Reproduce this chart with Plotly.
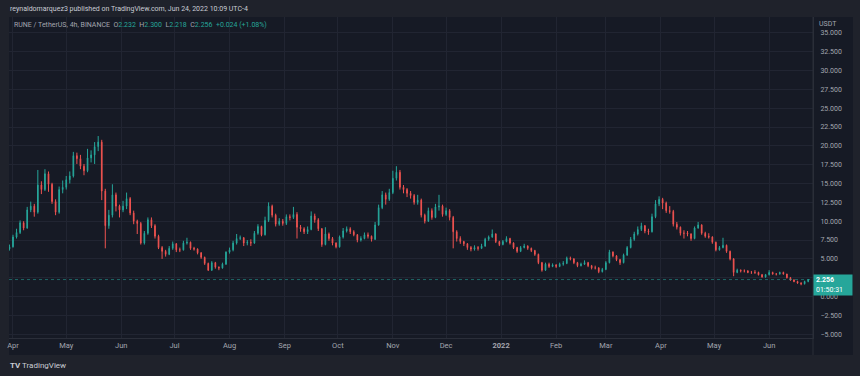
import pandas as pd
import plotly.graph_objects as go

# ---------------- data (2-day candles) ----------------
start_date = "2021-03-30"
first_open = 6.3
closes = [
    6.6, 7.9, 8.5, 9.8, 9.1, 11.5, 12.0, 11.2, 14.8, 14.2,
    16.3, 14.9, 12.6, 11.2, 14.2, 14.5, 15.5, 16.0, 18.7, 18.3,
    17.3, 16.7, 18.4, 18.8, 19.9, 20.5, 14.0, 9.4, 10.8, 13.5,
    12.0, 11.5, 12.0, 13.0, 11.1, 10.0, 9.7, 7.1, 8.4, 10.2,
    9.4, 8.0, 6.5, 6.0, 5.6, 6.4, 7.0, 6.2, 6.2, 7.1,
    7.2, 6.4, 6.3, 5.8, 5.2, 4.4, 3.5, 4.5, 3.9, 3.8,
    4.3, 5.9, 6.2, 7.1, 7.7, 7.8, 7.1, 7.2, 7.1, 8.4,
    9.3, 8.2, 10.1, 12.0, 10.8, 9.6, 10.0, 9.7, 10.6, 10.5,
    10.9, 9.2, 9.0, 8.6, 8.9, 10.7, 10.2, 9.0, 6.9, 8.3,
    7.7, 7.1, 6.6, 7.9, 8.7, 9.0, 8.6, 8.2, 7.5, 7.7,
    8.2, 8.0, 7.6, 9.5, 11.8, 13.5, 12.9, 13.8, 15.7, 16.5,
    14.5, 14.2, 13.7, 13.4, 12.5, 12.8, 10.8, 10.0, 11.4, 10.5,
    11.9, 12.0, 10.9, 11.4, 10.5, 8.6, 7.7, 7.3, 7.0, 6.5,
    6.3, 6.5, 6.4, 6.7, 7.6, 7.9, 8.3, 7.3, 6.9, 7.3,
    7.7, 7.1, 6.5, 6.0, 6.5, 6.7, 6.4, 6.1, 5.6, 4.5,
    3.5, 4.3, 4.0, 4.2, 4.0, 4.3, 4.4, 5.1, 5.0, 4.5,
    4.1, 4.3, 4.5, 4.1, 3.8, 3.8, 3.3, 3.6, 4.5, 5.9,
    5.4, 4.9, 4.5, 5.5, 6.5, 7.6, 8.3, 8.9, 9.4, 8.7,
    8.6, 10.6, 12.3, 12.9, 12.4, 11.4, 11.3, 9.6, 9.2, 8.4,
    8.4, 8.3, 7.7, 9.1, 9.5, 8.4, 8.0, 7.9, 7.2, 6.2,
    6.5, 6.8, 6.0, 5.0, 3.2, 3.5, 3.4, 3.4, 3.2, 3.2,
    3.2, 2.9, 2.6, 2.9, 3.2, 3.0, 3.0, 3.2, 3.0, 2.5,
    2.2, 2.0, 1.8, 1.7, 2.0, 2.256,
]
highs = [
    6.9, 8.2, 9.0, 10.1, 10.0, 11.9, 12.6, 12.3, 16.8, 15.3,
    16.9, 16.6, 15.1, 12.9, 14.6, 15.4, 16.0, 16.6, 19.2, 19.1,
    18.8, 17.6, 19.6, 19.4, 20.5, 21.3, 20.8, 14.3, 11.5, 14.9,
    13.8, 12.2, 12.7, 13.8, 13.2, 11.4, 10.2, 9.9, 8.7, 10.5,
    10.5, 9.6, 8.2, 6.7, 6.2, 6.7, 7.3, 7.1, 6.5, 7.4,
    7.8, 7.3, 6.6, 6.4, 5.9, 5.3, 4.5, 4.7, 4.6, 4.0,
    4.5, 6.0, 6.5, 7.4, 8.3, 8.1, 7.9, 7.5, 7.6, 8.7,
    9.6, 9.4, 10.6, 12.5, 12.2, 11.0, 10.4, 10.3, 10.9, 10.9,
    11.9, 11.2, 9.5, 9.2, 9.3, 11.3, 11.0, 10.4, 9.1, 9.2,
    8.5, 7.9, 7.2, 8.1, 9.1, 9.3, 9.2, 8.8, 8.3, 8.0,
    8.5, 8.5, 8.1, 9.9, 12.2, 14.0, 13.8, 14.3, 16.7, 17.3,
    16.8, 14.8, 14.4, 14.0, 13.6, 13.5, 13.0, 11.0, 11.8, 11.7,
    12.3, 13.5, 12.2, 11.8, 11.6, 10.7, 8.8, 8.0, 7.4, 7.1,
    6.7, 6.8, 6.7, 7.0, 7.8, 8.1, 8.9, 8.4, 7.4, 7.5,
    8.0, 7.8, 7.2, 6.6, 6.7, 7.0, 6.8, 6.5, 6.2, 5.7,
    4.6, 4.5, 4.5, 4.4, 4.3, 4.5, 4.7, 5.3, 5.3, 5.1,
    4.6, 4.5, 4.8, 4.6, 4.2, 4.1, 3.9, 3.8, 4.7, 6.2,
    6.0, 5.5, 5.0, 5.7, 6.7, 7.9, 8.6, 9.3, 9.8, 9.5,
    9.0, 11.0, 12.8, 13.3, 13.1, 12.6, 12.0, 11.5, 9.9, 9.3,
    8.8, 8.7, 8.4, 9.3, 9.9, 9.6, 8.6, 8.4, 8.0, 7.3,
    6.7, 7.8, 6.9, 6.1, 5.1, 3.7, 3.6, 3.6, 3.5, 3.4,
    3.5, 3.3, 3.0, 3.0, 3.5, 3.3, 3.1, 3.3, 3.3, 3.0,
    2.6, 2.3, 2.1, 1.9, 2.1, 2.3,
]
lows = [
    6.1, 6.5, 7.7, 8.3, 8.8, 9.0, 11.2, 10.6, 11.0, 13.6,
    14.0, 13.9, 12.3, 10.8, 11.0, 13.7, 14.2, 15.0, 15.8, 17.6,
    16.9, 16.1, 16.5, 17.8, 17.6, 19.3, 12.8, 6.4, 9.0, 10.5,
    11.3, 10.5, 11.2, 11.6, 10.8, 9.6, 8.3, 6.9, 6.9, 8.2,
    9.1, 7.7, 6.3, 5.0, 5.3, 5.5, 6.2, 5.9, 5.9, 6.1,
    6.9, 6.2, 6.1, 5.6, 5.0, 4.2, 3.4, 3.4, 3.7, 3.5,
    3.7, 4.2, 5.7, 6.0, 6.9, 7.5, 6.7, 6.8, 6.7, 7.0,
    8.2, 8.0, 8.1, 9.9, 10.5, 9.3, 9.4, 9.4, 9.5, 10.1,
    10.3, 7.7, 8.6, 8.3, 8.3, 8.8, 9.8, 8.7, 6.6, 6.8,
    7.4, 6.8, 6.4, 6.5, 7.7, 8.5, 8.3, 8.0, 7.2, 7.3,
    7.6, 7.7, 7.3, 7.5, 9.4, 11.6, 12.2, 12.7, 13.6, 15.4,
    14.2, 13.7, 13.2, 13.0, 12.2, 12.2, 10.5, 9.7, 9.9, 10.2,
    10.4, 11.4, 10.6, 10.7, 10.1, 6.4, 7.3, 7.0, 6.7, 6.2,
    6.0, 6.1, 6.1, 6.3, 6.6, 7.4, 7.8, 7.1, 6.7, 6.8,
    7.2, 6.9, 6.3, 5.8, 5.9, 6.4, 6.2, 5.9, 5.4, 4.3,
    3.3, 3.4, 3.8, 3.9, 3.8, 3.9, 4.1, 4.3, 4.8, 4.3,
    3.9, 4.0, 4.2, 3.9, 3.6, 3.6, 3.1, 3.2, 3.5, 4.4,
    5.2, 4.7, 4.2, 4.4, 5.4, 6.4, 7.4, 8.1, 8.7, 8.4,
    8.2, 8.5, 10.4, 12.0, 11.6, 11.1, 11.0, 9.3, 8.9, 8.1,
    7.7, 8.0, 7.4, 7.6, 9.0, 8.2, 7.8, 7.7, 7.0, 6.0,
    6.1, 6.4, 5.8, 4.8, 2.7, 3.1, 3.2, 3.2, 3.1, 3.0,
    3.0, 2.8, 2.5, 2.5, 2.8, 2.9, 2.8, 2.9, 2.9, 2.4,
    2.1, 1.9, 1.7, 1.5, 1.6, 1.9,
]
opens = [first_open] + closes[:-1]
dates = pd.date_range(start_date, periods=len(closes), freq="2D")

month_ticks = ["2021-04-01", "2021-05-01", "2021-06-01", "2021-07-01", "2021-08-01",
               "2021-09-01", "2021-10-01", "2021-11-01", "2021-12-01", "2022-01-01",
               "2022-02-01", "2022-03-01", "2022-04-01", "2022-05-01", "2022-06-01"]
month_labels = ["Apr", "May", "Jun", "Jul", "Aug", "Sep", "Oct", "Nov", "Dec",
                "<b>2022</b>", "Feb", "Mar", "Apr", "May", "Jun"]

price_ticks = [-5.0, -2.5, 0.0, 2.5, 5.0, 7.5, 10.0, 12.5, 15.0, 17.5,
               20.0, 22.5, 25.0, 27.5, 30.0, 32.5, 35.0]
price_labels = ["\u22125.000", "\u22122.500", "0.000", "", "5.000", "7.500",
                "10.000", "12.500", "15.000", "17.500", "20.000", "22.500",
                "25.000", "27.500", "30.000", "32.500", "35.000"]

header = "reynaldomarquez3 published on TradingView.com, Jun 24, 2022 10:09 UTC-4"
symbol = "RUNE / TetherUS, 4h, BINANCE"
ohlc_text = {"O": "2.232", "H": "2.300", "L": "2.218", "C": "2.256"}
change_text = "+0.024 (+1.08%)"
countdown = "01:50:31"
currency = "USDT"

# ---------------- styling ----------------
UP = "#26a69a"
DOWN = "#ef5350"
PANEL = "#161a25"
OUTER = "#1f222b"
GRID = "#212532"
TXT = "#a3a6af"
FONT = "Roboto"

fig = go.Figure()
fig.add_trace(go.Candlestick(
    x=dates, open=opens, high=highs, low=lows, close=closes,
    increasing=dict(line=dict(color=UP, width=1), fillcolor=UP),
    decreasing=dict(line=dict(color=DOWN, width=1), fillcolor=DOWN),
    whiskerwidth=0, showlegend=False, hoverinfo="skip",
))

last = closes[-1]

fig.update_layout(
    width=860, height=376,
    margin=dict(l=7, r=47, t=17, b=38),
    paper_bgcolor=OUTER, plot_bgcolor=PANEL,
    font=dict(family=FONT, size=7, color=TXT),
    showlegend=False,
    boxgap=0.72,
    xaxis=dict(
        type="date", range=["2021-03-29 18:00", "2022-06-25 17:00"],
        rangeslider=dict(visible=False),
        tickmode="array", tickvals=month_ticks, ticktext=month_labels,
        showgrid=True, gridcolor=GRID, gridwidth=1,
        showline=True, linecolor="#2a2e39", linewidth=1,
        ticks="", tickfont=dict(size=7.5, color=TXT), zeroline=False,
        fixedrange=True,
    ),
    yaxis=dict(
        side="right", range=[-5.5, 37.1],
        tickmode="array", tickvals=price_ticks, ticktext=price_labels,
        showgrid=True, gridcolor=GRID, gridwidth=1,
        showline=True, linecolor="#2a2e39", linewidth=1, mirror=False,
        ticks="", ticklabelstandoff=5, tickfont=dict(size=7, color=TXT),
        zeroline=False, fixedrange=True,
    ),
)

# dark panel behind axes (right scale + time scale)
fig.add_shape(type="rect", xref="paper", yref="paper",
              x0=0, x1=1.0496, y0=-0.053, y1=1.0,
              fillcolor=PANEL, line=dict(width=0), layer="below")
fig.add_shape(type="line", xref="paper", yref="paper",
              x0=1.0, x1=1.0, y0=-0.053, y1=1.0,
              line=dict(color="#2a2e39", width=1))

# current price dotted line
fig.add_shape(type="line", xref="paper", yref="y", x0=0, x1=1, y0=last, y1=last,
              line=dict(color="rgba(38,166,154,0.55)", width=1, dash="dot"))

# price label on right scale
fig.add_annotation(xref="paper", yref="y", x=1.0, y=last, xanchor="left",
                   yanchor="middle", yshift=-5, showarrow=False,
                   text=f"<b>{last:.3f}</b><br>{countdown}", align="left",
                   bgcolor=UP, width=34, height=16, borderpad=2,
                   font=dict(size=7, color="#ffffff"))

# currency label
fig.add_annotation(xref="paper", yref="paper", x=1.005, y=0.978, xanchor="left",
                   yanchor="middle", showarrow=False, text=currency,
                   bgcolor=PANEL, font=dict(size=7, color=TXT))

# header
fig.add_annotation(xref="paper", yref="paper", x=-0.001, y=1.026, xanchor="left",
                   yanchor="middle", showarrow=False, text=header,
                   font=dict(size=7, color="#c9ccd4"))

# symbol legend line
parts = [f'<span style="color:{TXT}">{symbol}</span>']
for k, v in ohlc_text.items():
    parts.append(f'<span style="color:{TXT}">{k}</span><span style="color:{UP}">{v}</span>')
parts.append(f'<span style="color:{UP}">{change_text}</span>')
fig.add_annotation(xref="paper", yref="paper", x=0.004, y=0.975, xanchor="left",
                   yanchor="middle", showarrow=False, text="  ".join(parts),
                   font=dict(size=7, color=TXT))

# footer logo
fig.add_annotation(xref="paper", yref="paper", x=-0.001, y=-0.087, xanchor="left",
                   yanchor="middle", showarrow=False,
                   text='<b>TV</b> TradingView',
                   font=dict(size=8, color="#c9ccd4"))

fig.write_html("out.html", config={"displayModeBar": False},
               post_script="document.body.style.margin='0';document.body.style.background='" + OUTER + "';")
